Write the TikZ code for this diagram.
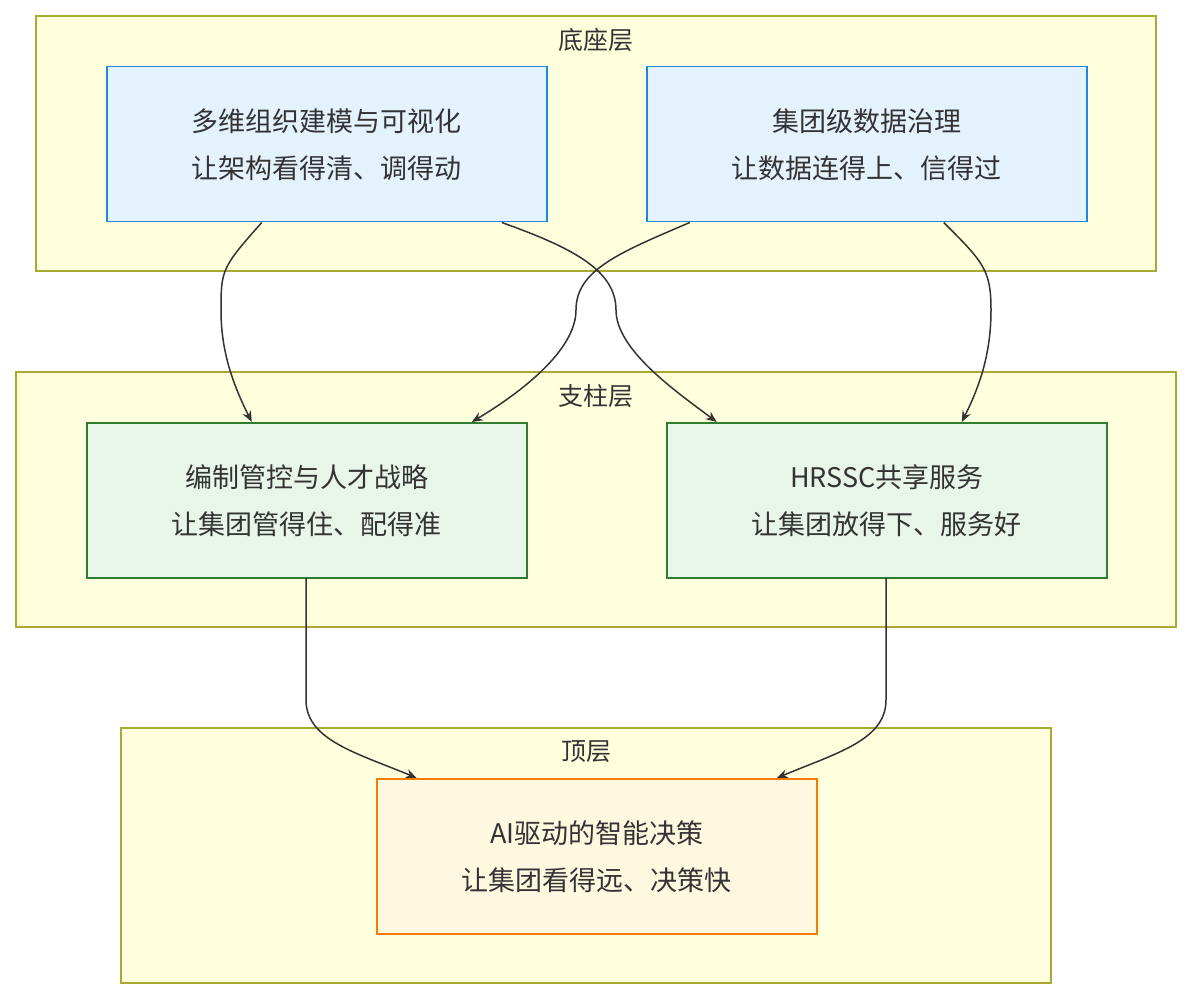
\documentclass[tikz,border=0pt]{standalone}
\usepackage{fontspec}
\setmainfont{Noto Sans CJK SC}
\usetikzlibrary{arrows.meta}
\definecolor{layerfill}{HTML}{FFFFDE}
\definecolor{layerdraw}{HTML}{AAAA33}
\definecolor{bfill}{HTML}{E3F2FD}
\definecolor{bdraw}{HTML}{1E88E5}
\definecolor{gfill}{HTML}{E8F5E9}
\definecolor{gdraw}{HTML}{2E7D32}
\definecolor{ofill}{HTML}{FFF8E1}
\definecolor{odraw}{HTML}{F57C00}
\definecolor{txt}{HTML}{333333}
\begin{document}
\begin{tikzpicture}[x=1pt,y=-1pt,
  layer/.style={draw=layerdraw,fill=layerfill,line width=1.2pt},
  title/.style={font=\fontsize{25}{30}\selectfont,text=txt},
  box/.style={line width=1.5pt,minimum width=440pt,minimum height=155pt,align=center,font=\fontsize{27}{47}\selectfont,text=txt,anchor=north west,inner sep=0pt},
  conn/.style={draw=txt,line width=1.5pt,-{Stealth[length=11pt,width=9pt]}}]
\useasboundingbox (0,0) rectangle (1192,1000);
\fill[white] (0,0) rectangle (1192,1000);
\draw[layer] (36,16) rectangle (1156,271);
\draw[layer] (16,372) rectangle (1176,627);
\draw[layer] (121,728) rectangle (1051,983);
\node[title] (t1) at (596,40) {底座层};
\node[title] (t2) at (596,396) {支柱层};
\node[title] (t3) at (586,752) {顶层};
\node[box,draw=bdraw,fill=bfill] (A) at (106,66) {多维组织建模与可视化\\让架构看得清、调得动};
\node[box,draw=bdraw,fill=bfill] (B) at (646,66) {集团级数据治理\\让数据连得上、信得过};
\node[box,draw=gdraw,fill=gfill] (C) at (86,422) {编制管控与人才战略\\让集团管得住、配得准};
\node[box,draw=gdraw,fill=gfill] (D) at (666,422) {HRSSC共享服务\\让集团放得下、服务好};
\node[box,draw=odraw,fill=ofill] (E) at (376,778) {AI驱动的智能决策\\让集团看得远、决策快};
\draw[conn] ([xshift=-65pt]A.south) .. controls +(-40,45) and +(0,-40) .. (221,310) .. controls +(0,40) and +(-20,-40) .. ([xshift=-55pt]C.north);
\draw[conn] ([xshift=175pt]A.south) .. controls +(70,25) and +(0,-40) .. (616,310) .. controls +(0,40) and +(-40,-30) .. ([xshift=-170pt]D.north);
\draw[conn] ([xshift=-177pt]B.south) .. controls +(-70,30) and +(0,-40) .. (576,310) .. controls +(0,40) and +(50,-30) .. ([xshift=165pt]C.north);
\draw[conn] ([xshift=77pt]B.south) .. controls +(40,40) and +(0,-40) .. (991,310) .. controls +(0,40) and +(20,-40) .. ([xshift=75pt]D.north);
\draw[conn] (306,578) -- (306,700) .. controls +(0,40) and +(-60,-25) .. ([xshift=-180pt]E.north);
\draw[conn] (886,578) -- (886,700) .. controls +(0,40) and +(60,-25) .. ([xshift=180pt]E.north);
\end{tikzpicture}
\end{document}
